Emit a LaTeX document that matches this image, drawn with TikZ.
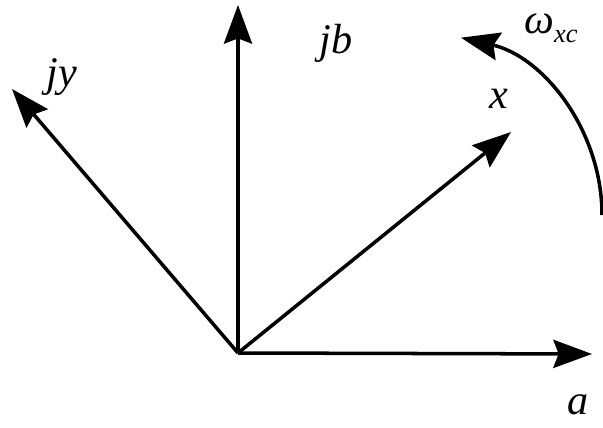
\documentclass[tikz,border=0pt]{standalone}
\usepackage{fontspec}
\setmainfont{Liberation Serif}
\usetikzlibrary{arrows.meta}

\begin{document}
\begin{tikzpicture}[x=0.02cm, y=0.02cm,
    axis/.style={line width=2pt, -{Stealth[length=22pt, width=16pt, inset=3pt]}},
    lbl/.style={font=\fontsize{24}{24}\selectfont\itshape, inner sep=0pt}]
    \useasboundingbox (0,0) rectangle (603,427);
    % origin and axis ends
    \coordinate (O)   at (238,74);
    \coordinate (jb)  at (238,422);
    \coordinate (a)   at (592,73);
    \coordinate (x)   at (511,295);
    \coordinate (jy)  at (12,338);
    \coordinate (wst) at (602,212);
    \draw[axis] (O) -- (jb);
    \draw[axis] (O) -- (a);
    \draw[axis] (O) -- (x);
    \draw[axis] (O) -- (jy);
    % rotation
    \draw[axis] (wst) arc[start angle=0, end angle=77, radius=182];
    \node[lbl] (jblbl) at (336,384) {jb};
    \node[lbl] (jylbl) at (62,350)  {jy};
    \node[lbl] (xlbl)  at (499,328) {x};
    \node[lbl] (albl)  at (578,22)  {a};
    \node[lbl, anchor=west] (wlbl) at (524,399)
      {ω\raisebox{-0.45ex}{\fontsize{15}{15}\selectfont xc}};
\end{tikzpicture}
\end{document}
